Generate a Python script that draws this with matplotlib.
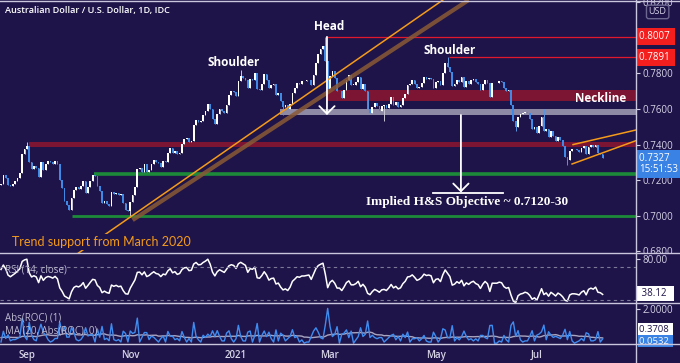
import numpy as np
import pandas as pd
import matplotlib
matplotlib.use("Agg")
import matplotlib.pyplot as plt
from matplotlib import transforms
from matplotlib.lines import Line2D

# ---- data (AUD/USD daily closes, one row per week) ----
first_day = "2020-08-17"
closes = [
    0.7180, 0.7230, 0.7210, 0.7175, 0.7165,
    0.7180, 0.7195, 0.7215, 0.7240, 0.7345,
    0.7375, 0.7390, 0.7300, 0.7265, 0.7280,
    0.7270, 0.7220, 0.7300, 0.7255, 0.7290,
    0.7305, 0.7300, 0.7290, 0.7310, 0.7290,
    0.7200, 0.7155, 0.7085, 0.7060, 0.7035,
    0.7100, 0.7145, 0.7160, 0.7150, 0.7165,
    0.7195, 0.7130, 0.7160, 0.7195, 0.7230,
    0.7225, 0.7165, 0.7140, 0.7070, 0.7085,
    0.7065, 0.7055, 0.7135, 0.7120, 0.7130,
    0.7115, 0.7120, 0.7070, 0.7030, 0.7025,
    0.7075, 0.7115, 0.7160, 0.7265, 0.7270,
    0.7245, 0.7290, 0.7245, 0.7260, 0.7290,
    0.7315, 0.7300, 0.7295, 0.7275, 0.7305,
    0.7300, 0.7350, 0.7380, 0.7350, 0.7365,
    0.7345, 0.7355, 0.7405, 0.7430, 0.7435,
    0.7415, 0.7420, 0.7510, 0.7540, 0.7525,
    0.7530, 0.7565, 0.7590, 0.7630, 0.7600,
    0.7545, 0.7515, 0.7570, 0.7600, 0.7590,
    0.7580, 0.7625, 0.7680, 0.7700, 0.7695,
    0.7675, 0.7755, 0.7785, 0.7775, 0.7765,
    0.7715, 0.7770, 0.7765, 0.7800, 0.7710,
    0.7705, 0.7740, 0.7795, 0.7765, 0.7715,
    0.7735, 0.7740, 0.7680, 0.7690, 0.7645,
    0.7610, 0.7620, 0.7600, 0.7630, 0.7690,
    0.7715, 0.7745, 0.7740, 0.7755, 0.7755,
    0.7760, 0.7765, 0.7735, 0.7790, 0.7860,
    0.7910, 0.7935, 0.7955, 0.7870, 0.7710,
    0.7785, 0.7815, 0.7775, 0.7700, 0.7700,
    0.7660, 0.7705, 0.7765, 0.7790, 0.7735,
    0.7735, 0.7750, 0.7780, 0.7710, 0.7740,
    0.7700, 0.7600, 0.7575, 0.7610, 0.7635,
    0.7615, 0.7590, 0.7615, 0.7620, 0.7605,
    0.7630, 0.7665, 0.7625, 0.7640, 0.7610,
    0.7620, 0.7660, 0.7685, 0.7735, 0.7740,
    0.7760, 0.7740, 0.7715, 0.7725, 0.7745,
    0.7780, 0.7770, 0.7775, 0.7770, 0.7720,
    0.7750, 0.7755, 0.7735, 0.7800, 0.7860,
    0.7835, 0.7810, 0.7730, 0.7740, 0.7765,
    0.7750, 0.7780, 0.7725, 0.7755, 0.7740,
    0.7760, 0.7770, 0.7750, 0.7740, 0.7705,
    0.7740, 0.7765, 0.7745, 0.7665, 0.7745,
    0.7745, 0.7745, 0.7755, 0.7750, 0.7715,
    0.7700, 0.7705, 0.7625, 0.7530, 0.7500,
    0.7555, 0.7570, 0.7575, 0.7585, 0.7575,
    0.7545, 0.7490, 0.7500, 0.7465, 0.7505,
    0.7555, 0.7475, 0.7490, 0.7440, 0.7475,
    0.7450, 0.7420, 0.7445, 0.7425, 0.7390,
    0.7330, 0.7315, 0.7365, 0.7375, 0.7375,
    0.7370, 0.7360, 0.7380, 0.7390, 0.7345,
    0.7385, 0.7395, 0.7385, 0.7400, 0.7350,
    0.7345, 0.7327,
]
# closes before the window, only used to warm up the indicators
warmup_closes = [0.7140, 0.7155, 0.7180, 0.7170, 0.7145, 0.7120, 0.7150, 0.7220,
                 0.7200, 0.7165, 0.7135, 0.7140, 0.7170, 0.7160, 0.7175]
# visible wick extremes (bar number -> price)
wick_highs = {11: 0.7413, 102: 0.7820, 138: 0.8007, 190: 0.7891, 231: 0.7599}
wick_lows = {55: 0.6991, 120: 0.7565, 163: 0.7530, 219: 0.7478, 241: 0.7288}

month_starts = ["2020-09-01", "2020-11-02", "2021-01-04", "2021-03-01", "2021-05-03", "2021-07-01"]
month_labels = ["Sep", "Nov", "2021", "Mar", "May", "Jul"]
price_ticks = [0.68, 0.70, 0.72, 0.74, 0.76, 0.78, 0.82]

head_level = 0.8007
shoulder_level = 0.7891
last_price = 0.7327
neck_band = (0.7645, 0.7707)
gray_band = (0.7564, 0.7598)
low_band = (0.7384, 0.7412)
green_levels = [0.7233, 0.7000]
objective_level = 0.7128

bg = "#1f1449"
fg = "#d6d3e6"
sep = "#c9c6de"
up_col = "#ffffff"
dn_col = "#3f8ae6"
orange = "#f59b19"

plt.rcParams["font.family"] = ["Open Sans", "DejaVu Sans"]

dates = pd.bdate_range(first_day, periods=len(closes))
idx = np.arange(len(closes))
c = np.array(closes)
o = np.array([warmup_closes[-1]] + closes[:-1])
hi = np.maximum(o, c)
lo = np.minimum(o, c)
for k, v in wick_highs.items():
    hi[k] = v
for k, v in wick_lows.items():
    lo[k] = v

# indicators from the closes
allc = pd.Series(warmup_closes + closes)
d = allc.diff()
gain = d.clip(lower=0).ewm(alpha=1 / 14, adjust=False).mean()
loss = (-d.clip(upper=0)).ewm(alpha=1 / 14, adjust=False).mean()
rsi = (100 - 100 / (1 + gain / loss)).iloc[len(warmup_closes):].to_numpy()
roc = (allc.pct_change().abs() * 100)
roc_ma = roc.rolling(20, min_periods=1).mean()
roc = roc.iloc[len(warmup_closes):].to_numpy()
roc_ma = roc_ma.iloc[len(warmup_closes):].to_numpy()

xmin, xmax = -0.43, 270.2

fig = plt.figure(figsize=(6.8, 3.63), dpi=100, facecolor=bg)
ax = fig.add_axes([0, 0.3030, 0.9353, 0.6970], facecolor=bg)
ax_rsi = fig.add_axes([0, 0.1653, 0.9353, 0.1377], facecolor=bg, sharex=ax)
ax_roc = fig.add_axes([0, 0.0523, 0.9353, 0.1130], facecolor=bg, sharex=ax)

for a in (ax, ax_rsi, ax_roc):
    for s in a.spines.values():
        s.set_visible(False)
    a.yaxis.tick_right()
    a.tick_params(axis="y", colors=fg, labelsize=7, length=3, width=0.8, pad=2)
    a.tick_params(axis="x", length=0)
ax.set_xlim(xmin, xmax)

# ---- main price panel ----
ax.set_ylim(0.6791, 0.8212)
ax.set_yticks(price_ticks)
ax.set_yticklabels(["%.4f" % p for p in price_ticks])
ax.tick_params(axis="x", labelbottom=False)

ax.fill_between([138.7, xmax], *neck_band, color="#7c1533", lw=0, zorder=1)
ax.fill_between([118.7, xmax], *gray_band, color="#8e8aa6", lw=0, zorder=1)
ax.fill_between([11.9, xmax], *low_band, color="#7c1533", lw=0, zorder=1)
ax.hlines(green_levels[0], 39.5, xmax, color="#1d8a3a", lw=2.6, zorder=1)
ax.hlines(green_levels[1], 30.0, xmax, color="#1d8a3a", lw=2.0, zorder=1)
ax.hlines(head_level, 138.7, xmax, color="#e0192d", lw=0.9, zorder=2)
ax.hlines(shoulder_level, 190.8, xmax, color="#e0192d", lw=0.9, zorder=2)

up = c >= o
ax.vlines(idx, lo, hi, colors=np.where(up, "#c9c7d8", "#5b95e0"), lw=0.7, zorder=3)
ax.bar(idx, np.maximum(np.abs(c - o), 0.00025), bottom=np.minimum(o, c), width=0.72,
       color=np.where(up, up_col, dn_col), lw=0, zorder=4)

# trend support from March 2020
ax.plot([56.0, 199.0], [0.6976, 0.8212], color="#8a5a36", lw=3.0, alpha=0.85,
        solid_capstyle="butt", zorder=5)
ax.axline((55.0, 0.6993), (189.0, 0.8221), color=orange, lw=1.1, zorder=5)
# rising flag
ax.plot([243.4, xmax], [0.7400, 0.7482], color=orange, lw=1.1, zorder=5)
ax.plot([243.0, xmax], [0.7291, 0.7422], color=orange, lw=1.1, zorder=5)

arrow = dict(arrowstyle="->,head_length=0.55,head_width=0.55", color="white", lw=1.3,
             shrinkA=0, shrinkB=0)
ax.annotate("", xy=(138.7, 0.7566), xytext=(138.7, 0.8005), arrowprops=arrow, zorder=6)
ax.annotate("", xy=(195.7, objective_level + 0.0003), xytext=(195.7, 0.7566),
            arrowprops=arrow, zorder=6)
ax.plot([183.8, 213.6], [objective_level, objective_level], color="white", lw=1.3, zorder=6)

lab = dict(color="white", fontsize=8.5, fontweight="bold", ha="center", va="center", zorder=7)
ax.text(139.8, 0.8061, "Head", **lab)
ax.text(98.9, 0.7860, "Shoulder", **lab)
ax.text(191.0, 0.7928, "Shoulder", **lab)
ax.text(255.0, 0.7656, "Neckline", **lab)
ax.text(198.2, 0.7078, "Implied H&S Objective ~ 0.7120-30", color="white", fontsize=9.5,
        fontweight="bold", family="Liberation Serif", ha="center", va="center", zorder=7)
ax.text(4.7, 0.6853, "Trend support from March 2020", color=orange, fontsize=9,
        family="Lato", ha="left", va="center", zorder=7,
        bbox=dict(facecolor=bg, edgecolor="none", pad=1.5))
ax.text(0.008, 0.957, "Australian Dollar / U.S. Dollar, 1D, IDC", transform=ax.transAxes,
        color="white", fontsize=6.6, fontweight="semibold", ha="left", va="center")

# right-hand price flags
tr = transforms.blended_transform_factory(ax.transAxes, ax.transData)
flag = dict(transform=tr, ha="left", fontsize=7, color="white", zorder=8, clip_on=False)
ax.text(1.005, head_level, "0.8007 ", va="center",
        bbox=dict(facecolor="#f51e1e", edgecolor="none", pad=2.2), **flag)
ax.text(1.005, shoulder_level, "0.7891 ", va="center",
        bbox=dict(facecolor="#f51e1e", edgecolor="none", pad=2.2), **flag)
ax.text(1.005, last_price + 0.0026, "0.7327 \n15:51:53", va="top", linespacing=1.05,
        bbox=dict(facecolor="#3a82e4", edgecolor="none", pad=1.8), **flag)
ax.text(1.02, 0.8145, "USD", transform=tr, ha="left", va="center", fontsize=6.5, color=fg,
        clip_on=False, zorder=9,
        bbox=dict(facecolor=bg, edgecolor="#6b6790", boxstyle="round,pad=0.25"))

# ---- RSI panel ----
ax_rsi.plot(idx, rsi, color="white", lw=1.1)
ax_rsi.set_ylim(26.4, 87.0)
for lvl in (70, 30):
    ax_rsi.axhline(lvl, color="#7d7a98", lw=0.8, ls=(0, (3, 3)))
ax_rsi.set_yticks([80])
ax_rsi.set_yticklabels(["80.00"])
ax_rsi.tick_params(axis="x", labelbottom=False)
ax_rsi.text(0.008, 0.66, "RSI (14, close)", transform=ax_rsi.transAxes, color="#bdbad0",
            fontsize=7, ha="left", va="center")
tr2 = transforms.blended_transform_factory(ax_rsi.transAxes, ax_rsi.transData)
ax_rsi.text(1.005, 38.12, " 38.12  ", transform=tr2, ha="left", va="center", fontsize=7,
            color="#1f1449", clip_on=False, bbox=dict(facecolor="white", edgecolor="none", pad=1.4))

# ---- Abs(ROC) panel ----
ax_roc.plot(idx, roc_ma, color="#a9a5c0", lw=1.0)
ax_roc.plot(idx, roc, color="#3f8cf0", lw=1.0)
ax_roc.set_ylim(-0.05, 2.35)
ax_roc.set_yticks([2.0])
ax_roc.set_yticklabels(["2.0000"])
ax_roc.text(0.008, 0.63, "Abs(ROC) (1)", transform=ax_roc.transAxes, color="#bdbad0",
            fontsize=7, ha="left", va="center")
ax_roc.text(0.008, 0.32, "MA (20, Abs(ROC), 0)", transform=ax_roc.transAxes, color="#bdbad0",
            fontsize=7, ha="left", va="center")
ax_roc.text(1.005, 0.36, "0.3708 ", transform=ax_roc.transAxes, ha="left", va="center",
            fontsize=6.8, color="#1f1449", clip_on=False,
            bbox=dict(facecolor="white", edgecolor="none", pad=1.0))
ax_roc.text(1.005, 0.07, "0.0532 ", transform=ax_roc.transAxes, ha="left", va="center",
            fontsize=6.8, color="white", clip_on=False,
            bbox=dict(facecolor="#3a82e4", edgecolor="none", pad=1.0))

tick_pos = dates.searchsorted(pd.to_datetime(month_starts))
ax_roc.set_xticks(tick_pos)
ax_roc.set_xticklabels(month_labels)
ax_roc.tick_params(axis="x", colors=fg, labelsize=7, pad=4)
for t in ax_roc.get_xticklabels():
    t.set_fontweight("semibold")

# price-scale labels are clipped to their own pane, like the trading platform does
for a in (ax, ax_rsi, ax_roc):
    pos = a.get_position()
    box = transforms.TransformedBbox(transforms.Bbox([[0, pos.y0], [1, pos.y1]]), fig.transFigure)
    for tk in a.yaxis.get_major_ticks():
        tk.label2.set_clip_box(box)
        tk.label2.set_clip_on(True)

# panel separators
for yf in (1 - 1 / 363, 1 - 253 / 363, 1 - 303 / 363, 1 - 344 / 363):
    fig.add_artist(Line2D([0, 1], [yf, yf], transform=fig.transFigure, color=sep, lw=1.0))
fig.add_artist(Line2D([636 / 680, 636 / 680], [0, 1], transform=fig.transFigure, color=sep, lw=1.0))

fig.savefig("out.png", dpi=100, facecolor=bg)
